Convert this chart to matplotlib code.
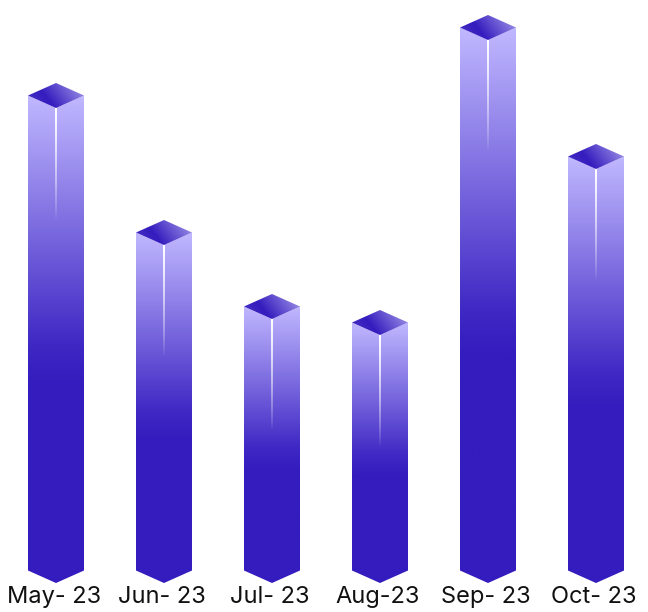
import numpy as np
import matplotlib
matplotlib.use("Agg")
import matplotlib.pyplot as plt
from matplotlib.colors import LinearSegmentedColormap
from matplotlib.patches import Polygon
from matplotlib.transforms import ScaledTranslation

# meses y altura de cada barra (vertice frontal de la cara superior)
meses = ["May- 23", "Jun- 23", "Jul- 23", "Aug-23", "Sep- 23", "Oct- 23"]
valores = [475, 338, 264, 248, 543, 414]

MITAD = 28 / 108  # media anchura de la barra, en unidades del eje x
CAIDA = 12.5      # caida isometrica de la cara superior

cara = LinearSegmentedColormap.from_list(
    "cara", [(0, "#c0b8ff"), (0.51, "#3f28c4"), (0.59, "#341cbe"), (1, "#341cbe")])
tapa = LinearSegmentedColormap.from_list(
    "tapa", [(0, "#4a33c6"), (0.35, "#341cbe"), (1, "#a59bea")])

fig = plt.figure(figsize=(6.48, 6.12), dpi=100)
ax = fig.add_axes([0, 29 / 612, 1, 583 / 612])


def relleno(mapa, datos, extension, vertices):
    im = ax.imshow(datos, cmap=mapa, vmin=0, vmax=1, extent=extension,
                   aspect="auto", interpolation="bilinear", origin="upper")
    pol = Polygon(vertices, closed=True, transform=ax.transData, fc="none", ec="none")
    ax.add_patch(pol)
    im.set_clip_path(pol)


for i, alto in enumerate(valores):
    izq, der = i - MITAD, i + MITAD
    borde = alto + CAIDA

    # caras laterales
    vertical = np.linspace(0, 1, 256).reshape(-1, 1)
    extension = (izq, der, 0, borde)
    relleno(cara, vertical, extension,
            [(izq, borde), (i, alto), (i, 0), (izq, CAIDA)])
    relleno(cara, vertical, extension,
            [(der, borde), (i, alto), (i, 0), (der, CAIDA)])

    # cara superior, degradado en diagonal
    u, v = np.meshgrid(np.linspace(0, 1, 64), np.linspace(1, 0, 64))
    relleno(tapa, 0.75 * u + 0.25 * v, (izq, der, alto, alto + 2 * CAIDA),
            [(izq, borde), (i, alto + 2 * CAIDA), (der, borde), (i, alto)])

    # brillo blanco de la arista frontal
    brillo = np.ones((128, 1, 4))
    brillo[:, 0, 3] = np.linspace(1, 0, 128) ** 0.8
    ax.imshow(brillo, extent=(i - 0.9 / 108, i + 0.9 / 108, alto - 112, alto),
              aspect="auto", interpolation="bilinear", origin="upper")

ax.set_xlim(-56 / 108, 6 - 56 / 108)
ax.set_ylim(0, 583)
ax.set_xticks(range(len(meses)))
ax.set_xticklabels(meses, fontsize=17, family="Inter", color="#111111")
ax.tick_params(axis="x", length=0, pad=2)
# las etiquetas quedan 2 px a la izquierda del centro de la barra
desplazamiento = ScaledTranslation(-2 / 100, 0, fig.dpi_scale_trans)
for etiqueta in ax.get_xticklabels():
    etiqueta.set_transform(etiqueta.get_transform() + desplazamiento)
ax.set_yticks([])
for lado in ax.spines.values():
    lado.set_visible(False)
ax.patch.set_alpha(0)

fig.savefig("out.png", dpi=100)
